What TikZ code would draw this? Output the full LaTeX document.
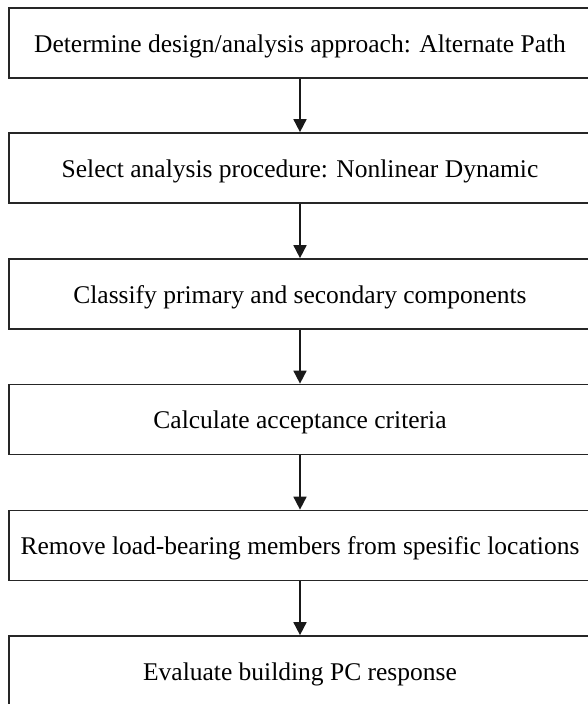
\documentclass[tikz,border=0pt]{standalone}
\usepackage{fontspec}
\setmainfont{Liberation Serif}
\usetikzlibrary{arrows.meta}
\begin{document}
\begin{tikzpicture}[x=1pt,y=-1pt,
  stepbox/.style={draw=black!85, line width=1.7pt, minimum width=582pt,
    minimum height=70pt, inner sep=0pt, text height=18pt, text depth=0pt,
    font=\fontsize{25.5}{30}\selectfont},
  flow/.style={draw=black!90, line width=1.7pt,
    -{Triangle[width=13pt,length=13pt]}}]
  \useasboundingbox (0,0) rectangle (587,704);
  \node[stepbox] (s1) at (300,43)    {Determine design/analysis approach: Alternate Path};
  \node[stepbox] (s2) at (300,168)   {Select analysis procedure: Nonlinear Dynamic};
  \node[stepbox] (s3) at (300,294)   {Classify primary and secondary components};
  \node[stepbox] (s4) at (300,419.5) {Calculate acceptance criteria};
  \node[stepbox] (s5) at (300,545.5) {Remove load-bearing members from spesific locations};
  \node[stepbox] (s6) at (300,671)   {Evaluate building PC response};
  \foreach \a/\b in {s1/s2,s2/s3,s3/s4,s4/s5,s5/s6}
    \draw[flow] (\a.south) -- (\b.north);
\end{tikzpicture}
\end{document}
